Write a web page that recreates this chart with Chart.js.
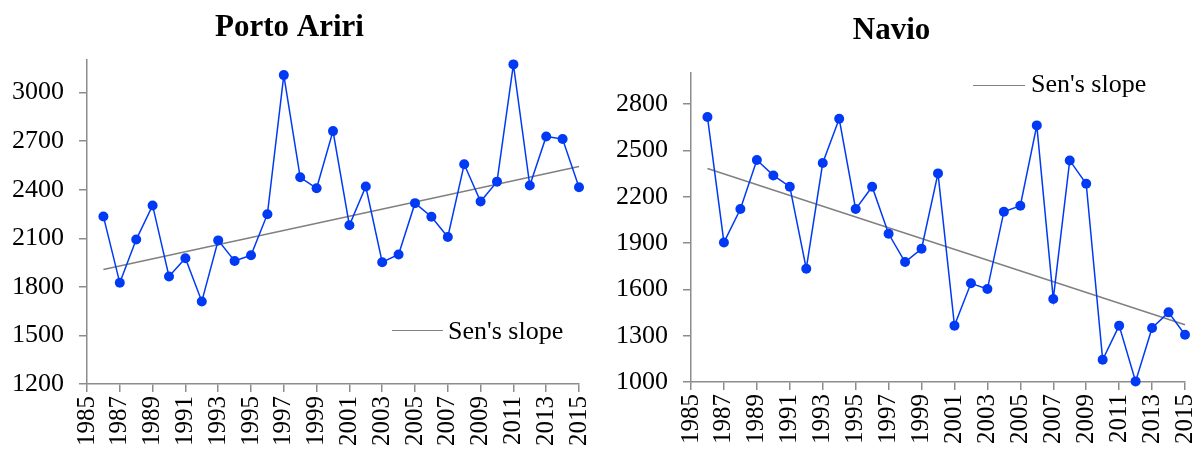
<!DOCTYPE html>
<html>
<head>
<meta charset="utf-8">
<script src="https://cdn.jsdelivr.net/npm/chart.js@4/dist/chart.umd.min.js"></script>
<style>
  body { margin: 0; background: #fff; width: 1195px; height: 453px; overflow: hidden; position: relative; font-family: 'Liberation Serif', 'Times New Roman', serif; }
  .box { position: absolute; top: 0; height: 453px; }
  #b1 { left: 0; width: 598px; }
  #b2 { left: 598px; width: 597px; }
  .lg-line { position: absolute; height: 0; border-top: 1.5px solid #808080; }
  .lg-text { position: absolute; font-size: 26px; line-height: 26px; color: #000; white-space: nowrap; }
</style>
</head>
<body>
<div class="box" id="b1"><canvas id="c1" width="598" height="453"></canvas></div>
<div class="box" id="b2"><canvas id="c2" width="597" height="453"></canvas></div>

<div class="lg-line" style="left:392px;top:330px;width:51px"></div>
<div class="lg-text" style="left:448px;top:318px">Sen's slope</div>
<div class="lg-line" style="left:973px;top:85px;width:52px"></div>
<div class="lg-text" style="left:1031px;top:71px">Sen's slope</div>

<script>
// years 1986..2015
const years = [1986, 1987, 1988, 1989, 1990, 1991, 1992, 1993, 1994, 1995,
  1996, 1997, 1998, 1999, 2000, 2001, 2002, 2003, 2004, 2005,
  2006, 2007, 2008, 2009, 2010, 2011, 2012, 2013, 2014, 2015];

const portoAriri = [2235, 1825, 2092, 2303, 1864, 1977, 1710, 2087, 1960, 1995,
  2249, 3108, 2477, 2409, 2762, 2180, 2420, 1952, 2000, 2317,
  2233, 2108, 2557, 2327, 2450, 3174, 2426, 2729, 2713, 2415];

const navio = [2716, 1904, 2120, 2438, 2338, 2265, 1734, 2418, 2705, 2120,
  2265, 1960, 1777, 1863, 2351, 1365, 1639, 1602, 2103, 2142,
  2662, 1538, 2435, 2284, 1144, 1365, 1004, 1350, 1451, 1306];

// Sen's slope trend lines: end points
const senYears = [1986, 2015];
const senPorto = [1907, 2544];
const senNavio = [2383, 1371];

const FONT = "'Liberation Serif', 'Times New Roman', serif";
const BLUE = 'rgb(0, 58, 245)';
const GREY = '#8c8c8c';

function pts(xs, ys) {
  return xs.map((x, i) => ({ x: x, y: ys[i] }));
}

function makeChart(id, title, values, sen, yMin, yMax, cfg) {
  const ctx = document.getElementById(id).getContext('2d');
  return new Chart(ctx, {
    type: 'line',
    data: {
      datasets: [
        {
          label: title,
          data: pts(years, values),
          borderColor: BLUE,
          backgroundColor: BLUE,
          borderWidth: 1.5,
          pointRadius: 5,
          pointBorderWidth: 0,
          pointBackgroundColor: BLUE,
          tension: 0,
          clip: false,
        },
        {
          label: "Sen's slope",
          data: pts(senYears, sen),
          borderColor: '#808080',
          borderWidth: 1.5,
          pointRadius: 0,
          clip: false,
        },
      ],
    },
    options: {
      responsive: false,
      animation: false,
      devicePixelRatio: 1,
      layout: { padding: { left: 0, right: cfg.padRight, top: 0, bottom: 0 } },
      plugins: {
        legend: { display: false },
        tooltip: { enabled: false },
        title: {
          display: true,
          text: title,
          color: '#000',
          font: { family: FONT, size: 31, weight: 'bold' },
          padding: { top: cfg.titleTop, bottom: cfg.titleBottom },
        },
      },
      scales: {
        x: {
          type: 'linear',
          min: 1985,
          max: 2015,
          border: { color: GREY, width: 1.5 },
          grid: { drawOnChartArea: false, drawTicks: true, tickLength: 8, color: GREY, lineWidth: 1.5 },
          ticks: {
            stepSize: 2,
            autoSkip: false,
            maxRotation: 90,
            minRotation: 90,
            padding: 4,
            color: '#000',
            font: { family: FONT, size: 25 },
            callback: (v) => String(v),
          },
          afterFit: (s) => { s.height = cfg.xHeight; s.paddingLeft = 0; s.paddingRight = 0; },
        },
        y: {
          min: yMin,
          max: yMax,
          bounds: 'data',
          border: { color: GREY, width: 1.5 },
          grid: { drawOnChartArea: false, drawTicks: true, tickLength: 8, color: GREY, lineWidth: 1.5 },
          ticks: {
            stepSize: 300,
            padding: 15,
            color: '#000',
            font: { family: FONT, size: 26 },
            callback: (v) => String(v),
          },
          // keep only the 300-step ticks (drop the axis max)
          afterBuildTicks: (s) => { s.ticks = s.ticks.filter((t) => (t.value - yMin) % 300 === 0); },
          afterFit: (s) => { s.width = cfg.yWidth; s.paddingTop = 0; s.paddingBottom = 0; },
        },
      },
    },
  });
}

makeChart('c1', 'Porto Ariri', portoAriri, senPorto, 1200, 3200,
  { padRight: 19, titleTop: 9, titleBottom: 14, xHeight: 69, yWidth: 87 });
makeChart('c2', 'Navio', navio, senNavio, 1000, 3000,
  { padRight: 10, titleTop: 12, titleBottom: 24, xHeight: 71, yWidth: 93 });
</script>
</body>
</html>
